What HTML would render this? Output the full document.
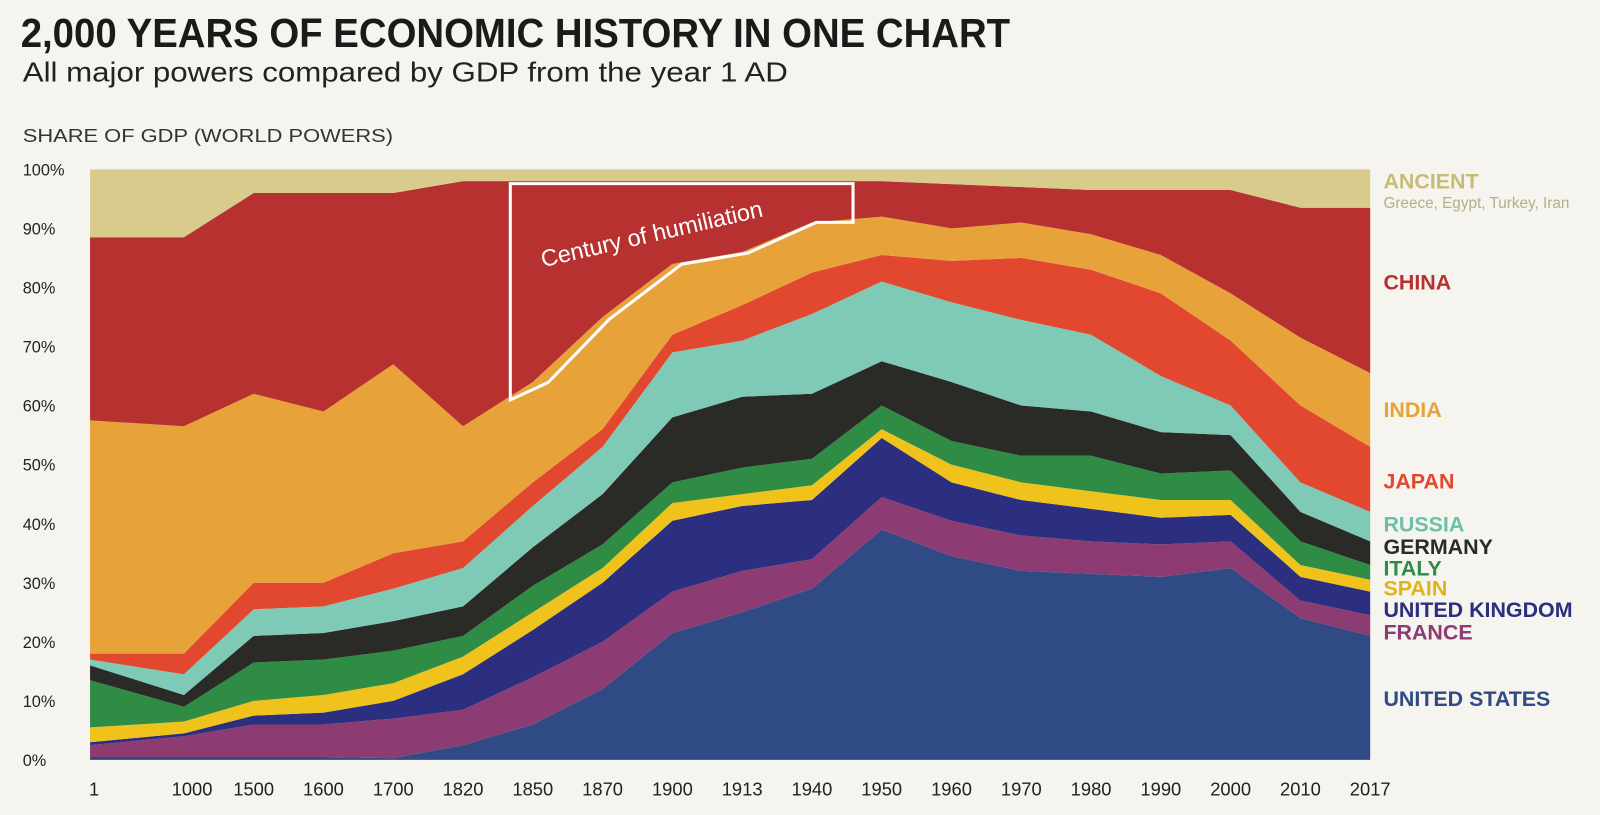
<!DOCTYPE html>
<html><head><meta charset="utf-8"><style>
body{margin:0;width:1600px;height:815px;background:#f6f4ef;font-family:"Liberation Sans",sans-serif;overflow:hidden}
svg{position:absolute;left:0;top:0}
</style></head><body>
<svg width="1600" height="815" viewBox="0 0 1568 799">
<text x="20" y="46" font-size="40" font-weight="bold" fill="#1a1a1a" textLength="970" lengthAdjust="spacingAndGlyphs">2,000 YEARS OF ECONOMIC HISTORY IN ONE CHART</text>
<text x="22" y="80" font-size="27" fill="#222" textLength="750" lengthAdjust="spacingAndGlyphs">All major powers compared by GDP from the year 1 AD</text>
<text x="22" y="139" font-size="18" fill="#333" textLength="363" lengthAdjust="spacingAndGlyphs">SHARE OF GDP (WORLD POWERS)</text>
<g id="areas"></g><g id="yticks"></g><g id="xticks"></g><g id="labels"></g>
<path d="M500,180 L836,180 L836,218 L800,218 L733,248 L668,259 L597,313 L537,375 L500,392 Z" fill="none" stroke="#fff" stroke-width="3"/>
<text x="532" y="262" font-size="23" fill="#fff" transform="rotate(-13 532 262)">Century of humiliation</text>
</svg>
<script>
const categories=["1","1000","1500","1600","1700","1820","1850","1870","1900","1913","1940","1950","1960","1970","1980","1990","2000","2010","2017"];
const seriesNames=["UNITED STATES","FRANCE","UNITED KINGDOM","SPAIN","ITALY","GERMANY","RUSSIA","JAPAN","INDIA","CHINA","ANCIENT"];
const usTop=[0.5,0.5,0.5,0.5,0.3,2.5,6,12,21.5,25,29,39,34.5,32,31.5,31,32.5,24,21];
const franceTop=[2.5,4,6,6,7,8.5,14,20,28.5,32,34,44.5,40.5,38,37,36.5,37,27,24.5];
const ukTop=[3,4.5,7.5,8,10,14.5,22,30,40.5,43,44,54.5,47,44,42.5,41,41.5,31,28.5];
const spainTop=[5.5,6.5,10,11,13,17.5,25,32.5,43.5,45,46.5,56,50,47,45.5,44,44,33,30.5];
const italyTop=[13.5,9,16.5,17,18.5,21,29.5,36.5,47,49.5,51,60,54,51.5,51.5,48.5,49,37,33];
const germanyTop=[16,11,21,21.5,23.5,26,36,45,58,61.5,62,67.5,64,60,59,55.5,55,42,37];
const russiaTop=[17,14.5,25.5,26,29,32.5,43,53,69,71,75.5,81,77.5,74.5,72,65,60,47,42];
const japanTop=[18,18,30,30,35,37,47,56,72,77,82.5,85.5,84.5,85,83,79,71,60,53];
const indiaTop=[57.5,56.5,62,59,67,56.5,64,75,84,86,91,92,90,91,89,85.5,79,71.5,65.5];
const chinaTop=[88.5,88.5,96,96,96,98,98,98,98,98,98,98,97.5,97,96.5,96.5,96.5,93.5,93.5];
const ancientTop=categories.map(()=>100);
const yTicks=[0,10,20,30,40,50,60,70,80,90,100];
const tops=[usTop,franceTop,ukTop,spainTop,italyTop,germanyTop,russiaTop,japanTop,indiaTop,chinaTop,ancientTop];
const colors=["#2f4a85","#8c3b73","#2c2f7f","#efc21c","#2e8c45","#2a2a26","#7ecab6","#e2482f","#e8a23a","#b73130","#d8cb8c"];
const labelColors=["#2f4a85","#8c3b73","#2c2f7f","#e0b418","#2e8c45","#2a2a26","#6cc0aa","#e0482f","#e8a23a","#b73130","#c9bb76"];
const labelY=[692,627,605,584,564,543,521,479,409,284,185];
const NS="http://www.w3.org/2000/svg";
function xs(i){return i===0?88:180+(i-1)*(1343-180)/(categories.length-2);}
function ys(v){return 745-v*5.79;}
const ga=document.getElementById('areas');
for(let s=0;s<tops.length;s++){
  const top=tops[s],bot=s?tops[s-1]:null;
  let d="";
  top.forEach((v,i)=>{d+=(i?"L":"M")+xs(i)+","+ys(v);});
  for(let i=top.length-1;i>=0;i--)d+="L"+xs(i)+","+ys(bot?bot[i]:0);
  const p=document.createElementNS(NS,'path');
  p.setAttribute('d',d+"Z");p.setAttribute('fill',colors[s]);
  
  
  ga.appendChild(p);
  const t=document.createElementNS(NS,'text');
  t.setAttribute('x',1356);t.setAttribute('y',labelY[s]);
  t.setAttribute('font-size',21);t.setAttribute('font-weight','bold');t.setAttribute('fill',labelColors[s]);
  t.textContent=seriesNames[s];
  
  
  document.getElementById('labels').appendChild(t);
}
const sub=document.createElementNS(NS,'text');
sub.setAttribute('x',1356);sub.setAttribute('y',204);sub.setAttribute('font-size',15);sub.setAttribute('fill','#b5ad85');
sub.textContent="Greece, Egypt, Turkey, Iran";


document.getElementById('labels').appendChild(sub);
yTicks.forEach(v=>{
  const t=document.createElementNS(NS,'text');
  t.setAttribute('x',22);t.setAttribute('y',ys(v)+6);t.setAttribute('font-size',16);t.setAttribute('fill','#222');
  t.textContent=v+"%";
  
  
  document.getElementById('yticks').appendChild(t);
});
categories.forEach((c,i)=>{
  const t=document.createElementNS(NS,'text');
  let x=xs(i);if(i===0)x=92;if(i===1)x=188;
  t.setAttribute('x',x);t.setAttribute('y',780);t.setAttribute('font-size',18);t.setAttribute('fill','#222');
  t.setAttribute('text-anchor','middle');
  t.textContent=c;
  
  
  document.getElementById('xticks').appendChild(t);
});
</script>
</body></html>
